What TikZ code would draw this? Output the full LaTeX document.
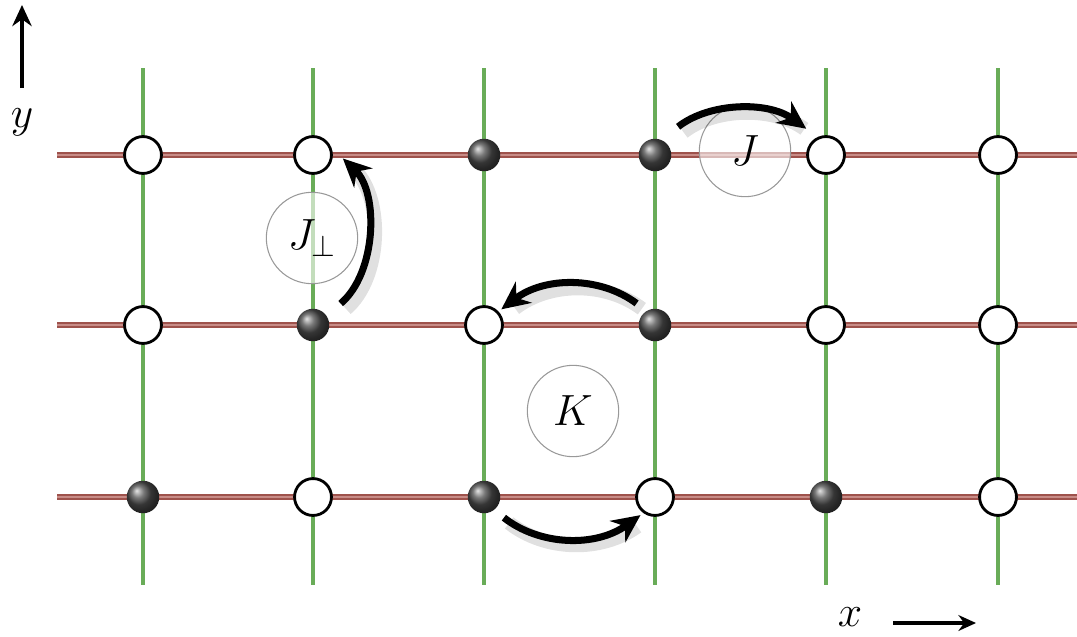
\documentclass[tikz,border=0pt]{standalone}
\usetikzlibrary{arrows.meta,shadings}
\definecolor{rodred}{RGB}{158,82,76}
\definecolor{rodpink}{RGB}{200,140,135}
\definecolor{rodgreen}{RGB}{105,172,88}
\tikzset{
  hrod/.style={draw=rodred,line width=3.8pt},
  hrodin/.style={draw=rodpink,line width=1.2pt},
  vrod/.style={draw=rodgreen,line width=2.8pt},
  empty/.style={circle,draw=black,line width=1.6pt,fill=white,minimum size=21pt,inner sep=0pt},
  filled/.style={circle,ball color=black!70,shading=ball,minimum size=18.5pt,inner sep=0pt},
  label/.style={circle,draw=black!40,line width=0.6pt,fill=white,fill opacity=0.6,text opacity=1,minimum size=52pt,inner sep=0pt,font=\fontsize{25}{30}\selectfont},
  hop/.style={draw=black,line width=4pt,-{Stealth[length=16pt,width=15pt]}},
  hopshadow/.style={draw=black,opacity=0.12,line width=8pt,transform canvas={shift={(3pt,-3pt)}}},
  axis/.style={draw=black,line width=2.8pt,-{Stealth[length=12pt,width=11pt]}}
}
\begin{document}
\begin{tikzpicture}[x=0.02cm,y=-0.02cm]
\useasboundingbox (0,0) rectangle (1077,636);
% rods
\foreach \x in {143,313,484,655,826,998} \draw[vrod] (\x,68) -- (\x,585);
\foreach \y in {155,325,497} {\draw[hrod] (57,\y) -- (1077,\y); \draw[hrodin] (57,\y) -- (1077,\y);}
% sites row 1
\node[empty]  (s11) at (143,155) {};
\node[empty]  (s21) at (313,155) {};
\node[filled] (s31) at (484,155) {};
\node[filled] (s41) at (655,155) {};
\node[empty]  (s51) at (826,155) {};
\node[empty]  (s61) at (998,155) {};
% row 2
\node[empty]  (s12) at (143,325) {};
\node[filled] (s22) at (313,325) {};
\node[empty]  (s32) at (484,325) {};
\node[filled] (s42) at (655,325) {};
\node[empty]  (s52) at (826,325) {};
\node[empty]  (s62) at (998,325) {};
% row 3
\node[filled] (s13) at (143,497) {};
\node[empty]  (s23) at (313,497) {};
\node[filled] (s33) at (484,497) {};
\node[empty]  (s43) at (655,497) {};
\node[filled] (s53) at (826,497) {};
\node[empty]  (s63) at (998,497) {};
% coupling labels
\node[label] (Jp) at (312,238) {$J_\perp$};
\node[label] (J)  at (745,151) {$J$};
\node[label] (K)  at (573,411) {$K$};
% hopping arrows: shadows
\draw[hopshadow,shorten <=10.5pt,shorten >=14pt] (s22.35) to[bend right=48] (s21.22);
\draw[hopshadow,shorten <=12pt,shorten >=13pt] (s41.67) to[bend left=37] (s51.115);
\draw[hopshadow,shorten <=7pt,shorten >=8pt] (s42.121) to[bend right=37] (s32.43);
\draw[hopshadow,shorten <=7pt,shorten >=8pt] (s33.-52) to[bend right=37] (s43.-126);
% hopping arrows
\draw[hop,shorten <=10.5pt,shorten >=9pt] (s22.35) to[bend right=48] (s21.22);
\draw[hop,shorten <=12pt,shorten >=8pt] (s41.67) to[bend left=37] (s51.115);
\draw[hop,shorten <=7pt,shorten >=2pt] (s42.121) to[bend right=37] (s32.43);
\draw[hop,shorten <=7pt,shorten >=2pt] (s33.-52) to[bend right=37] (s43.-126);
% axes
\coordinate (yA) at (22,88);
\coordinate (yB) at (22,5);
\draw[axis] (yA) -- (yB);
\node[font=\fontsize{25}{30}\selectfont] (ylab) at (22,122) {$y$};
\node[font=\fontsize{25}{30}\selectfont] (xlab) at (850,617) {$x$};
\coordinate (xA) at (893,623);
\coordinate (xB) at (976,623);
\draw[axis,line width=2pt,-{Stealth[length=10pt,width=9pt]}] (xA) -- (xB);
\end{tikzpicture}
\end{document}
